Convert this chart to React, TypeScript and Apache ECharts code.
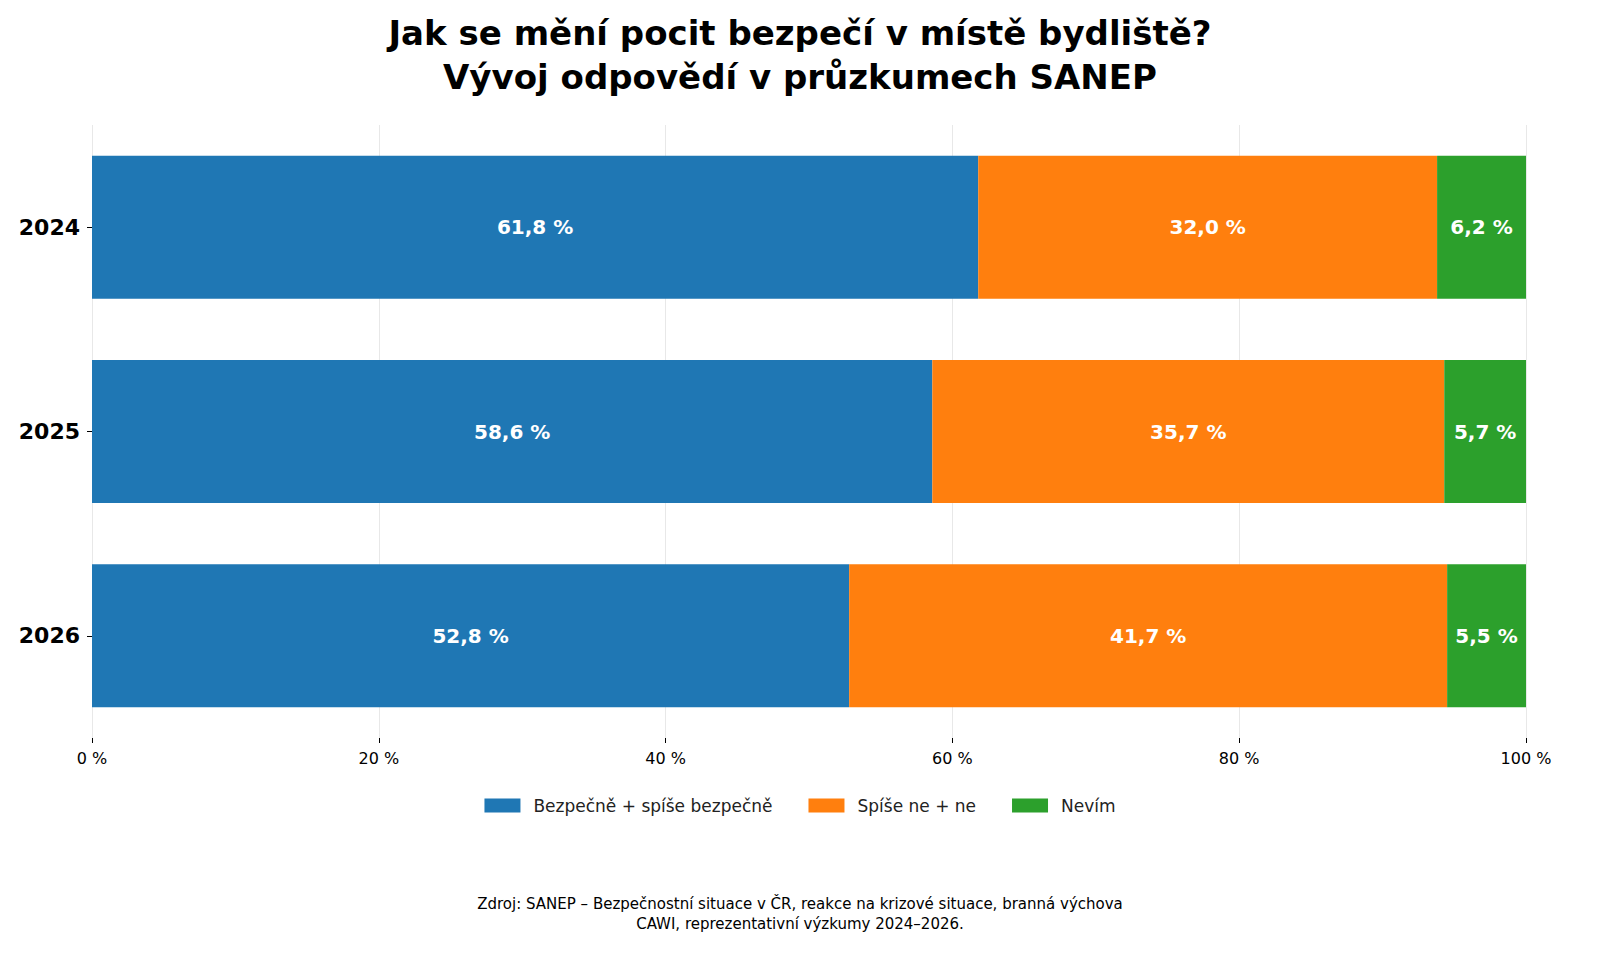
import { useEffect, useRef } from 'react';
import * as echarts from 'echarts';

const years = ['2024', '2025', '2026'];
const safe = [61.8, 58.6, 52.8];
const unsafe = [32.0, 35.7, 41.7];
const dontKnow = [6.2, 5.7, 5.5];
const seriesNames = ['Bezpečně + spíše bezpečně', 'Spíše ne + ne', 'Nevím'];
const colors = ['#1f77b4', '#ff7f0e', '#2ca02c'];

const font = 'DejaVu Sans';

function App() {
  const chartRef = useRef<HTMLDivElement>(null);

  useEffect(() => {
    document.body.style.margin = '0';
    if (!chartRef.current) return;
    const chart = echarts.init(chartRef.current, null, { renderer: 'svg' });
    const fmt = (p: any) => p.value.toFixed(1).replace('.', ',') + ' %';
    const mk = (name: string, data: number[], color: string) => ({
      name,
      type: 'bar',
      stack: 'total',
      data,
      barWidth: '70%',
      itemStyle: { color },
      label: {
        show: true,
        position: 'inside',
        formatter: fmt,
        color: '#fff',
        fontWeight: 'bold',
        fontSize: 20,
        fontFamily: font,
      },
    });
    chart.setOption({
      animation: false,
      textStyle: { fontFamily: font },
      title: {
        text: 'Jak se mění pocit bezpečí v místě bydliště?\nVývoj odpovědí v průzkumech SANEP',
        left: 'center',
        top: 6,
        textStyle: { fontSize: 34, fontWeight: 'bold', color: '#000', lineHeight: 44, fontFamily: font },
      },
      legend: {
        bottom: 148,
        left: 'center',
        itemWidth: 36,
        itemHeight: 14,
        itemGap: 36,
        icon: 'rect',
        textStyle: { fontSize: 17, color: '#222', fontFamily: font, padding: [0, 0, 0, 8] },
        data: seriesNames,
      },
      graphic: [
        {
          type: 'text',
          left: 'center',
          top: 894,
          style: {
            text: 'Zdroj: SANEP – Bezpečnostní situace v ČR, reakce na krizové situace, branná výchova\nCAWI, reprezentativní výzkumy 2024–2026.',
            fontSize: 15,
            lineHeight: 20,
            textAlign: 'center',
            fill: '#000',
            fontFamily: font,
          },
        },
      ],
      grid: { left: 92, right: 74, top: 125, bottom: 229 },
      xAxis: {
        type: 'value',
        min: 0,
        max: 100,
        interval: 20,
        axisLabel: { formatter: '{value} %', fontSize: 16, color: '#000', margin: 12 },
        axisTick: { show: true, length: 5, lineStyle: { color: '#000' } },
        axisLine: { show: false },
        splitLine: { show: true, lineStyle: { color: '#e8e8e8' } },
      },
      yAxis: {
        type: 'category',
        data: years,
        inverse: true,
        axisLabel: { fontSize: 22, fontWeight: 'bold', color: '#000', margin: 12 },
        axisTick: { show: true, alignWithLabel: true, length: 5, lineStyle: { color: '#000' } },
        axisLine: { show: false },
      },
      series: [
        mk(seriesNames[0], safe, colors[0]),
        mk(seriesNames[1], unsafe, colors[1]),
        mk(seriesNames[2], dontKnow, colors[2]),
      ],
    });
    return () => chart.dispose();
  }, []);

  return <div ref={chartRef} style={{ width: 1600, height: 967 }} />;
}

export default App;
